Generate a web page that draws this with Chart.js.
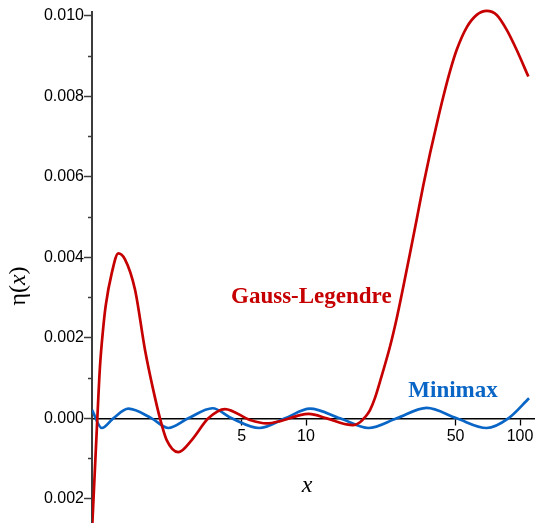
<!DOCTYPE html>
<html>
<head>
<meta charset="utf-8">
<script src="https://cdn.jsdelivr.net/npm/chart.js@4"></script>
<style>
  html, body { margin: 0; padding: 0; background: #ffffff; }
  #wrap { width: 535px; height: 523px; }
</style>
</head>
<body>
<div id="wrap"><canvas id="c" width="535" height="523"></canvas></div>
<script>
// ---- data ----
const gaussX = [1.0, 1.059, 1.090, 1.126, 1.159, 1.236, 1.327, 1.426, 1.588, 1.769, 1.934, 2.078, 2.234, 2.532, 2.924, 3.496, 4.183, 5.473, 6.553, 7.558, 9.376, 10.3, 12.50, 15.49, 16.63, 17.88, 18.87, 19.91, 21.01, 22.17, 24.69, 26.53, 28.50, 30.62, 32.91, 35.33, 37.97, 40.81, 43.83, 47.10, 50.61, 56.36, 62.77, 69.90, 77.84, 86.69, 96.52, 109.4];
const gaussY = [-0.0028, 0, 0.0013, 0.0022, 0.0028, 0.0036, 0.0041, 0.00395, 0.0032, 0.0017, 0.0007, 0, -0.00054, -0.00084, -0.00054, 0, 0.00023, -0.00004, -0.000125, -0.00007, 0.00008, 0.00011, 0, -0.00015, -0.000167, -0.000097, 0.000028, 0.000206, 0.000508, 0.000914, 0.001784, 0.002479, 0.003274, 0.004102, 0.004947, 0.005791, 0.006578, 0.007307, 0.007994, 0.008624, 0.009154, 0.009713, 0.010022, 0.010121, 0.01002, 0.00965, 0.00915, 0.00849];

const minimaxX = [1.0, 1.110, 1.257, 1.478, 1.901, 2.273, 2.818, 3.656, 4.5, 6.05, 7.98, 10.44, 14.42, 19.6, 26.54, 36.64, 50.6, 69.9, 88.2, 110.2];
const minimaxY = [0.00021, -0.00024, 0, 0.00024, 0, -0.00024, 0, 0.00025, 0, -0.00024, 0, 0.00024, 0, -0.00024, 0, 0.00026, 0, -0.00024, 0, 0.0005];

const seriesNames = ['Gauss-Legendre', 'Minimax'];
const seriesLabelX = [4.462, 30.06];
const seriesLabelY = [0.002857, 0.000529];

const xTickValues = [5, 10, 50, 100];
const xTickLabels = ['5', '10', '50', '100'];
const yTickValues = [-0.002, -0.001, 0, 0.001, 0.002, 0.003, 0.004, 0.005, 0.006, 0.007, 0.008, 0.009, 0.010];
const yTickLabels = ['0.002', '', '0.000', '', '0.002', '', '0.004', '', '0.006', '', '0.008', '', '0.010'];

const xRange = [1, 117.5];
const yRange = [-0.0026, 0.010094];

const xTitle = 'x';
const yTitleParts = ['η(', 'x', ')'];

// ---- styling ----
const RED = '#c60000';
const BLUE = '#0a66c6';
const AXIS = '#3c3c3c';

const toPoints = (xs, ys) => xs.map((x, i) => ({ x: x, y: ys[i] }));

const textPlugin = {
  id: 'texts',
  afterDraw(chart) {
    const ctx = chart.ctx;
    const xs = chart.scales.x, ys = chart.scales.y;
    ctx.save();
    // series annotations
    ctx.font = 'bold 23px "Liberation Serif"';
    ctx.textAlign = 'left';
    ctx.textBaseline = 'alphabetic';
    ctx.fillStyle = RED;
    ctx.fillText(seriesNames[0], xs.getPixelForValue(seriesLabelX[0]), ys.getPixelForValue(seriesLabelY[0]));
    ctx.fillStyle = BLUE;
    ctx.fillText(seriesNames[1], xs.getPixelForValue(seriesLabelX[1]), ys.getPixelForValue(seriesLabelY[1]));

    // x axis title (italic x)
    ctx.fillStyle = '#000';
    ctx.font = 'italic 24px "Liberation Serif"';
    ctx.textAlign = 'center';
    ctx.fillText(xTitle, xs.getPixelForValue(10) + 1, ys.getPixelForValue(0) + 74);

    // y axis title, rotated
    ctx.translate(25, 286);
    ctx.rotate(-Math.PI / 2);
    ctx.textAlign = 'left';
    const fonts = ['24px "Liberation Serif"', 'italic 24px "Liberation Serif"', '24px "Liberation Serif"'];
    let total = 0;
    const widths = yTitleParts.map((t, i) => { ctx.font = fonts[i]; const w = ctx.measureText(t).width; total += w; return w; });
    let pos = -total / 2;
    yTitleParts.forEach((t, i) => { ctx.font = fonts[i]; ctx.fillText(t, pos, 0); pos += widths[i]; });
    ctx.restore();
  }
};

new Chart(document.getElementById('c'), {
  type: 'line',
  data: {
    datasets: [
      {
        label: seriesNames[0],
        data: toPoints(gaussX, gaussY),
        borderColor: RED,
        borderWidth: 2.7,
        pointRadius: 0,
        fill: false,
        cubicInterpolationMode: 'monotone',
        clip: { left: 0, top: 6, right: 2, bottom: 0 }
      },
      {
        label: seriesNames[1],
        data: toPoints(minimaxX, minimaxY),
        borderColor: BLUE,
        borderWidth: 2.7,
        pointRadius: 0,
        fill: false,
        cubicInterpolationMode: 'monotone',
        clip: { left: 0, top: 6, right: 2, bottom: 0 }
      }
    ]
  },
  options: {
    responsive: false,
    animation: false,
    devicePixelRatio: 1,
    layout: { padding: { top: 12, left: 0, right: 0, bottom: 0 } },
    plugins: { legend: { display: false }, tooltip: { enabled: false } },
    scales: {
      x: {
        type: 'logarithmic',
        min: xRange[0],
        max: xRange[1],
        position: { y: 0 },
        border: { display: true, color: '#000', width: 1.5 },
        grid: { display: true, drawOnChartArea: false, drawTicks: true, tickLength: 6, tickColor: '#000', tickWidth: 1.3 },
        ticks: {
          font: { family: 'Liberation Sans', size: 16 },
          color: '#000',
          padding: 3,
          maxRotation: 0,
          autoSkip: false,
          callback: (v, i) => xTickLabels[i]
        },
        afterBuildTicks: s => { s.ticks = xTickValues.map(v => ({ value: v })); },
        afterFit: s => { s.height = 0; s.paddingLeft = 0; s.paddingRight = 0; s.paddingTop = 0; s.paddingBottom = 0; }
      },
      y: {
        type: 'linear',
        position: 'left',
        min: yRange[0],
        max: yRange[1],
        border: { display: true, color: AXIS, width: 2 },
        grid: {
          display: true,
          drawOnChartArea: false,
          drawTicks: true,
          tickLength: 8,
          tickColor: AXIS,
          tickWidth: 1.5,
          tickBorderDash: c => (yTickLabels[c.index] ? [] : [0, 4, 20])
        },
        ticks: {
          font: { family: 'Liberation Sans', size: 16 },
          color: '#000',
          padding: 0,
          autoSkip: false,
          callback: (v, i) => yTickLabels[i]
        },
        afterBuildTicks: s => { s.ticks = yTickValues.map(v => ({ value: v })); },
        afterFit: s => { s.width = 92; s.paddingTop = 0; s.paddingBottom = 0; }
      }
    }
  },
  plugins: [textPlugin]
});
</script>
</body>
</html>
